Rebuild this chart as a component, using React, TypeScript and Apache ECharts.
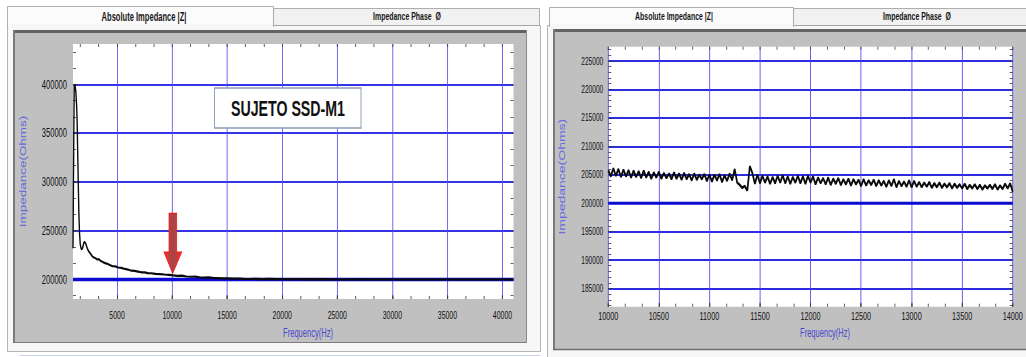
import React, { useEffect, useRef } from "react";
import * as echarts from "echarts";

const SANS = "'Liberation Sans',Arial,sans-serif";
// The original screenshot is squeezed horizontally; the chart is drawn wider and scaled back.
const SX = 0.63;
const X = (px: number) => px / SX;

// ---- Left panel: full sweep ----
const leftFreq = [
  1000, 1060, 1110, 1180, 1260, 1330, 1380, 1430, 1480, 1530, 1590, 1660, 1740, 1820, 1900, 1980,
  2060, 2150, 2250, 2350, 2480, 2620, 2760, 2900, 3050, 3200, 3350, 3500, 3700, 3900, 4100, 4350,
  4600, 4850, 5100, 5400, 5700, 6000, 6300, 6600, 6900, 7200, 7500, 7800, 8100, 8500, 8900, 9300,
  9700, 10100, 10500, 10900, 11300, 11700, 12100, 12500, 12900, 13300, 13700, 14100, 14500, 15000,
  15500, 16000, 16500, 17000, 17600, 18200, 18800, 19400, 20000, 20600, 21200, 21800, 22400, 23000,
  24000, 25000, 27000, 30000, 33000, 36000, 39000, 41000,
];
const leftZ = [
  232000, 330000, 398000, 400000, 392000, 378000, 360000, 328000, 298000, 270000, 248000, 236000, 231500, 231000, 233500, 237500,
  238500, 237000, 233500, 230500, 228000, 226000, 223500, 222500, 221800, 220500, 220800, 219200, 218000, 216800, 216200, 214800,
  213600, 213400, 212300, 211900, 210800, 210200, 209000, 208800, 208100, 207400, 207300, 206600, 206400, 205800, 205500, 205100,
  204800, 204200, 203800, 203900, 203100, 202800, 202900, 202300, 202000, 202100, 201600, 201500, 201200, 201100,
  200800, 200900, 200600, 200500, 200700, 200400, 200600, 200300, 200500, 200200, 200500, 200200, 200400, 200100,
  200300, 200000, 200100, 200000, 200000, 200000, 200000, 200000,
];
const leftXLabels = [5000, 10000, 15000, 20000, 25000, 30000, 35000, 40000];
const leftYLabels = [200000, 250000, 300000, 350000, 400000];

// ---- Right panel: zoom 10 kHz - 14 kHz ----
const rightData: [number, number][] = [
  [10000, 205800], [10025, 204700], [10050, 206100], [10075, 204800], [10100, 206000], [10125, 204600], [10150, 205900], [10175, 204700],
  [10200, 205800], [10225, 204500], [10250, 205700], [10275, 204600], [10300, 205600], [10325, 204400], [10350, 205700], [10375, 204500],
  [10400, 205500], [10425, 204300], [10450, 205400], [10475, 204500], [10500, 205500], [10525, 204300], [10550, 205300], [10575, 204400],
  [10600, 205200], [10625, 204200], [10650, 205400], [10675, 204300], [10700, 205200], [10725, 204100], [10750, 205300], [10775, 204200],
  [10800, 205100], [10825, 204000], [10850, 205200], [10875, 204100], [10900, 205000], [10925, 204200], [10950, 205100], [10975, 203900],
  [11000, 205000], [11025, 203800], [11050, 205000], [11075, 204000], [11100, 205100], [11125, 203700], [11150, 204900], [11175, 203900],
  [11200, 205200], [11225, 204000], [11250, 206000], [11275, 203600], [11300, 203200], [11325, 202700], [11350, 203000], [11375, 202200],
  [11400, 206500], [11425, 205300], [11450, 203400], [11475, 205000], [11500, 203500], [11525, 204800], [11550, 203600], [11575, 204700],
  [11600, 203400], [11625, 204600], [11650, 203500], [11675, 204800], [11700, 203600], [11725, 204900], [11750, 203500], [11775, 204700],
  [11800, 203400], [11825, 204600], [11850, 203600], [11875, 204800], [11900, 203500], [11925, 204700], [11950, 203400], [11975, 204800],
  [12000, 203600], [12025, 204700], [12050, 203300], [12075, 204500], [12100, 203500], [12125, 204400], [12150, 203300], [12175, 204500],
  [12200, 203200], [12225, 204300], [12250, 203400], [12275, 204400], [12300, 203200], [12325, 204200], [12350, 203300], [12375, 204300],
  [12400, 203100], [12425, 204200], [12450, 203300], [12475, 204100], [12500, 203000], [12525, 204200], [12550, 203100], [12575, 204000],
  [12600, 203200], [12625, 204100], [12650, 203000], [12675, 204000], [12700, 203100], [12725, 203900], [12750, 202900], [12775, 204000],
  [12800, 203000], [12825, 204200], [12850, 202800], [12875, 203900], [12900, 203000], [12925, 203800], [12950, 202900], [12975, 204000],
  [13000, 202800], [13025, 203900], [13050, 202900], [13075, 203700], [13100, 202800], [13125, 203600], [13150, 202900], [13175, 203700],
  [13200, 202700], [13225, 203500], [13250, 202800], [13275, 203600], [13300, 202700], [13325, 203400], [13350, 202800], [13375, 203500],
  [13400, 202600], [13425, 203400], [13450, 202700], [13475, 203300], [13500, 202600], [13525, 203400], [13550, 202500], [13575, 203200],
  [13600, 202600], [13625, 203300], [13650, 202500], [13675, 203200], [13700, 202400], [13725, 203100], [13750, 202600], [13775, 203200],
  [13800, 202500], [13825, 203300], [13850, 202400], [13875, 203100], [13900, 202500], [13925, 203400], [13950, 202600], [13975, 203500],
  [14000, 202000],
];
const rightYLabels = [185000, 190000, 195000, 200000, 205000, 210000, 215000, 220000, 225000];
const referenceZ = 200000;

// minor-tick decorations
const tickRange = (start: number, end: number, step: number) => {
  const out: number[] = [];
  for (let k = Math.ceil(start / step); k * step <= end + 1e-6; k++) out.push(Math.round(k * step * 100) / 100);
  return out;
};

export default function App() {
  const ref = useRef<HTMLDivElement>(null);
  useEffect(() => {
    const chart = echarts.init(ref.current!, null, { renderer: "svg" });
    const L = { min: 1000, max: 41000, ymin: 180000, ymax: 441500 };
    const R = { min: 10000, max: 14000, ymin: 181800, ymax: 227500 };
    const tickStyle = { color: "#3a3a3a", width: 1 };
    const labelStyle = { color: "#111111", fontFamily: SANS };
    const fmt = (v: number) => String(v);

    const minorAxisX = (grid: number, pos: string, min: number, max: number, vals: number[]) => ({
      gridIndex: grid, type: "value", position: pos, min, max,
      axisLine: { show: false }, axisLabel: { show: false }, splitLine: { show: false },
      axisTick: { show: true, inside: true, length: 3, customValues: vals, lineStyle: tickStyle },
    });
    const minorAxisY = (grid: number, pos: string, min: number, max: number, vals: number[]) => ({
      gridIndex: grid, type: "value", position: pos, min, max,
      axisLine: { show: false }, axisLabel: { show: false }, splitLine: { show: false },
      axisTick: { show: true, inside: true, length: X(3), customValues: vals, lineStyle: tickStyle },
    });

    const arrowGrad = new echarts.graphic.LinearGradient(0, 0, 1, 0, [
      { offset: 0, color: "#ff2b2b" },
      { offset: 0.5, color: "#9e4848" },
      { offset: 1, color: "#ff2b2b" },
    ]);

    const bg = (o: any) => ({ ...o, z: -10, silent: true });
    const rect = (x: number, y: number, w: number, h: number, style: any) =>
      bg({ type: "rect", shape: { x: X(x), y, width: X(w), height: h }, style });
    const hline = (x1: number, x2: number, y: number, stroke: string, lineWidth: number) =>
      bg({ type: "line", shape: { x1: X(x1), y1: y, x2: X(x2), y2: y }, style: { stroke, lineWidth } });
    const vline = (x: number, y1: number, y2: number, stroke: string, lineWidth: number) =>
      bg({ type: "line", shape: { x1: X(x), y1, x2: X(x), y2 }, style: { stroke, lineWidth: lineWidth / SX } });
    const caption = (x: number, text: string, size: number) => ({
      type: "text", x: X(x), y: 16.5, z: 5,
      style: { text, align: "center", verticalAlign: "middle", fontFamily: SANS, fontSize: size, fontWeight: "bold", fill: "#161616" },
    });

    const option: any = {
      animation: false,
      backgroundColor: "#ffffff",
      grid: [
        { left: X(73), top: 44, width: X(440.5), height: 255, show: true, backgroundColor: "#ffffff", borderWidth: 0 },
        { left: X(608.3), top: 46.7, width: X(404.4), height: 260, show: true, backgroundColor: "#ffffff", borderWidth: 0 },
      ],
      xAxis: [
        {
          gridIndex: 0, type: "value", position: "bottom", min: L.min, max: L.max,
          axisLine: { show: false },
          axisTick: { show: true, inside: true, length: 4, customValues: leftXLabels, lineStyle: tickStyle },
          axisLabel: { customValues: leftXLabels, formatter: fmt, margin: 11, fontSize: 11, ...labelStyle },
          splitLine: { show: true, lineStyle: { color: "#4c4cf2", width: 1.3 } },
          name: "Frequency(Hz)", nameLocation: "middle", nameGap: 28,
          nameTextStyle: { color: "#4646cc", fontFamily: SANS, fontSize: 12, padding: [0, 0, 0, 47] },
        },
        minorAxisX(0, "top", L.min, L.max, tickRange(L.min, L.max, 5000 / 3)),
        minorAxisX(0, "bottom", L.min, L.max, tickRange(L.min, L.max, 5000 / 3)),
        {
          gridIndex: 1, type: "value", position: "bottom", min: R.min, max: R.max, interval: 500,
          axisLine: { show: false },
          axisTick: { show: true, inside: true, length: 4, lineStyle: tickStyle },
          axisLabel: { formatter: fmt, margin: 3, fontSize: 11.5, ...labelStyle },
          splitLine: { show: true, lineStyle: { color: "#4444f0", width: 1.3 } },
          name: "Frequency(Hz)", nameLocation: "middle", nameGap: 18,
          nameTextStyle: { color: "#4646cc", fontFamily: SANS, fontSize: 12, padding: [0, 0, 0, 46] },
        },
        minorAxisX(1, "top", R.min, R.max, tickRange(R.min, R.max, 500 / 3)),
        minorAxisX(1, "bottom", R.min, R.max, tickRange(R.min, R.max, 500 / 3)),
      ],
      yAxis: [
        {
          gridIndex: 0, type: "value", position: "left", min: L.ymin, max: L.ymax,
          axisLine: { show: false },
          axisTick: { show: true, inside: true, length: X(4), customValues: leftYLabels, lineStyle: tickStyle },
          axisLabel: { customValues: leftYLabels, formatter: fmt, margin: X(6), fontSize: 12, ...labelStyle },
          splitLine: { show: true, lineStyle: { color: "#3434e6", width: 1.8 } },
          name: "Impedance(Ohms)", nameLocation: "middle", nameGap: 73,
          nameTextStyle: { color: "#6464dc", fontFamily: SANS, fontSize: 13.5 },
        },
        minorAxisY(0, "right", L.ymin, L.ymax, tickRange(L.ymin, L.ymax, 50000 / 3)),
        minorAxisY(0, "left", L.ymin, L.ymax, tickRange(L.ymin, L.ymax, 50000 / 3)),
        {
          gridIndex: 1, type: "value", position: "left", min: R.ymin, max: R.ymax,
          axisLine: { show: false },
          axisTick: { show: true, inside: true, length: X(4), customValues: rightYLabels, lineStyle: tickStyle },
          axisLabel: { customValues: rightYLabels, formatter: fmt, margin: X(5), fontSize: 10.5, ...labelStyle },
          splitLine: { show: true, lineStyle: { color: "#2c2ce0", width: 2 } },
          name: "Impedance(Ohms)", nameLocation: "middle", nameGap: 67,
          nameTextStyle: { color: "#6a6ae0", fontFamily: SANS, fontSize: 14 },
        },
        minorAxisY(1, "right", R.ymin, R.ymax, tickRange(R.ymin, R.ymax, 1000)),
        minorAxisY(1, "left", R.ymin, R.ymax, tickRange(R.ymin, R.ymax, 1000)),
      ],
      series: [
        {
          name: "Referencia", type: "line", xAxisIndex: 0, yAxisIndex: 0, z: 3,
          data: [[L.min, referenceZ], [L.max, referenceZ]], showSymbol: false, symbol: "none",
          lineStyle: { color: "#0a0ad0", width: 3.5 },
        },
        {
          name: "|Z| SUJETO SSD-M1", type: "line", xAxisIndex: 0, yAxisIndex: 0, z: 4,
          data: leftFreq.map((f, i) => [f, leftZ[i]]), showSymbol: false, symbol: "none",
          lineStyle: { color: "#0a0a0a", width: 2.2 },
        },
        {
          name: "Referencia zoom", type: "line", xAxisIndex: 3, yAxisIndex: 3, z: 3,
          data: [[R.min, referenceZ], [R.max, referenceZ]], showSymbol: false, symbol: "none",
          lineStyle: { color: "#0a0ad0", width: 3 },
        },
        {
          name: "|Z| zoom", type: "line", xAxisIndex: 3, yAxisIndex: 3, z: 4,
          data: rightData, showSymbol: false, symbol: "none",
          lineStyle: { color: "#0a0a0a", width: 2.7 },
        },
      ],
      graphic: [
        // left window
        rect(7.5, 25.5, 533, 326, { fill: "#f7f7f7", stroke: "#a4a4a4", lineWidth: 1 }),
        rect(273.5, 8.5, 266, 17, { fill: "#f1f1f1", stroke: "#9c9c9c", lineWidth: 1 }),
        rect(7.5, 6.5, 266, 20, { fill: "#fbfbfb", stroke: "#9c9c9c", lineWidth: 1 }),
        rect(8, 24, 265, 4, { fill: "#f7f7f7" }),
        rect(13, 30, 514, 313, { fill: "#c0c0c0" }),
        hline(13, 527, 31.5, "#636363", 3),
        vline(14, 30, 343, "#7a7a7a", 2),
        hline(13, 527, 342.5, "#6c6c6c", 1),
        vline(526.5, 30, 343, "#8a8a8a", 1),
        hline(20, 540, 355.5, "#b9cde2", 1),
        // right window
        rect(547.5, 25.5, 490, 340, { fill: "#f7f7f7", stroke: "#a4a4a4", lineWidth: 1 }),
        rect(793.5, 8.5, 240, 17, { fill: "#f1f1f1", stroke: "#9c9c9c", lineWidth: 1 }),
        rect(549.5, 7.5, 244, 19, { fill: "#fbfbfb", stroke: "#9c9c9c", lineWidth: 1 }),
        rect(550, 24, 243, 4, { fill: "#f7f7f7" }),
        rect(553, 29, 480, 321, { fill: "#c0c0c0" }),
        hline(553, 1030, 30.5, "#636363", 3),
        vline(554, 29, 350, "#7a7a7a", 2),
        hline(553, 1030, 349.5, "#6c6c6c", 1.5),
        // tab captions
        caption(144, "Absolute Impedance |Z|", 12),
        caption(407, "Impedance Phase  Ø", 11),
        caption(674, "Absolute Impedance |Z|", 11),
        caption(917, "Impedance Phase  Ø", 11),
        // subject label box
        { type: "rect", z: 50, shape: { x: X(214.5), y: 88, width: X(146.5), height: 40 }, style: { fill: "#ffffff", stroke: "#8d9bb4", lineWidth: 1.5 } },
        { type: "text", x: X(288), y: 108.5, z: 51, style: { text: "SUJETO SSD-M1", align: "center", verticalAlign: "middle", fontFamily: SANS, fontSize: 22.5, fontWeight: "bold", fill: "#111111" } },
        // red arrow pointing at 10 kHz
        {
          type: "polygon", z: 52,
          shape: { points: [[169, 213.3], [176.7, 213.3], [176.7, 252], [181.7, 252], [172.7, 273.3], [164, 252], [169, 252]].map(([x, y]) => [X(x), y]) },
          style: { fill: arrowGrad, stroke: "#f01c1c", lineWidth: 1.2 },
        },
      ],
    };
    chart.setOption(option);
    return () => chart.dispose();
  }, []);
  return (
    <div style={{ position: "fixed", left: 0, top: 0, width: 1026, height: 357, overflow: "hidden", background: "#ffffff" }}>
      <div
        ref={ref}
        style={{ width: X(1026), height: 357, transform: `scaleX(${SX})`, transformOrigin: "0 0" }}
      />
    </div>
  );
}
